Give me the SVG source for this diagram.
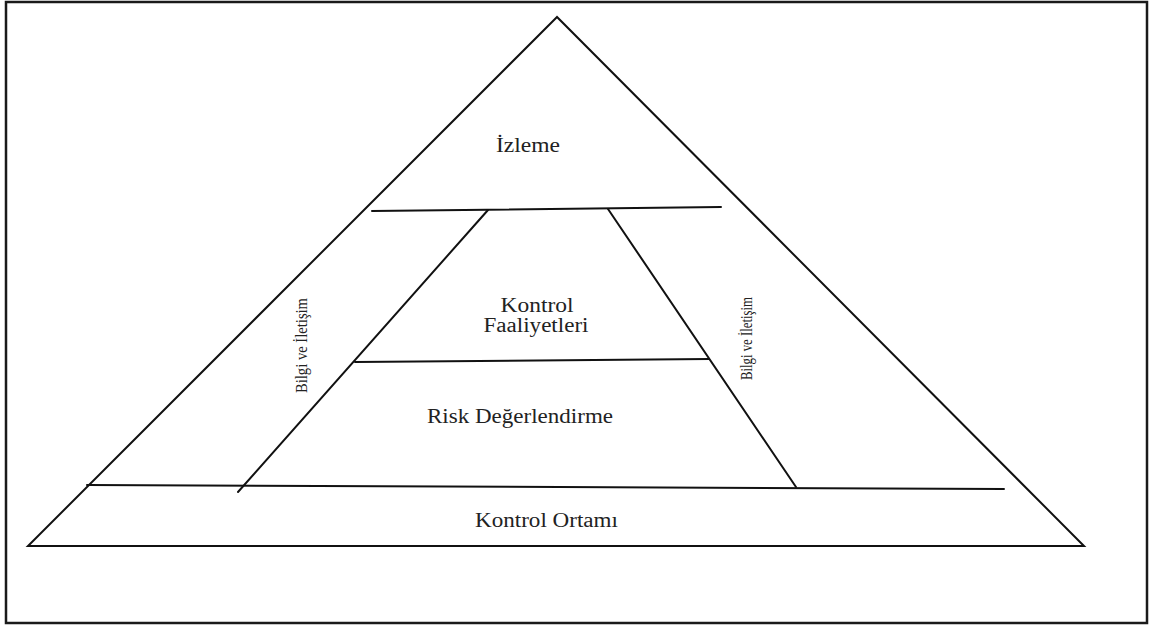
<svg xmlns="http://www.w3.org/2000/svg" width="1150" height="628" viewBox="0 0 1150 628">
  <style>
    .frame { fill: #ffffff; stroke: #1a1a1a; stroke-width: 2.5; }
    .edge { fill: none; stroke: #111111; stroke-width: 2; stroke-linecap: round; }
    .label { font-family: "Liberation Serif", "Times New Roman", serif; font-size: 20px; fill: #222222; text-anchor: middle; }
    .side { font-family: "Liberation Serif", "Times New Roman", serif; font-size: 16px; fill: #222222; text-anchor: middle; }
  </style>

  <rect x="0" y="0" width="1150" height="628" fill="#ffffff"/>
  <rect class="frame" x="6" y="2" width="1141" height="621"/>

  <!-- outer pyramid -->
  <g id="pyramid">
    <polygon class="edge" points="557,17 28,546 1084,546" stroke-linejoin="miter"/>
  </g>

  <!-- dividing lines -->
  <g id="connectors">
    <line class="edge" x1="372" y1="211" x2="721" y2="207"/>
    <line class="edge" x1="355" y1="362" x2="709" y2="359"/>
    <line class="edge" x1="87" y1="485" x2="1004" y2="489"/>
    <line class="edge" x1="488" y1="210" x2="238" y2="492"/>
    <line class="edge" x1="608" y1="209" x2="796" y2="487"/>
  </g>

  <g id="izleme">
    <text class="label" x="528" y="152" textLength="64" lengthAdjust="spacingAndGlyphs">İzleme</text>
  </g>

  <g id="kontrol-faaliyetleri">
    <text class="label" x="537" y="312" textLength="73" lengthAdjust="spacingAndGlyphs">Kontrol</text>
    <text class="label" x="536" y="332" textLength="105" lengthAdjust="spacingAndGlyphs">Faaliyetleri</text>
  </g>

  <g id="risk-degerlendirme">
    <text class="label" x="520" y="423" textLength="186" lengthAdjust="spacingAndGlyphs">Risk Değerlendirme</text>
  </g>

  <g id="kontrol-ortami">
    <text class="label" x="546.5" y="527" textLength="143" lengthAdjust="spacingAndGlyphs">Kontrol Ortamı</text>
  </g>

  <g id="bilgi-iletisim-left">
    <text class="side" transform="translate(307,345.5) rotate(-90)" textLength="95" lengthAdjust="spacingAndGlyphs">Bilgi ve İletişim</text>
  </g>

  <g id="bilgi-iletisim-right">
    <text class="side" transform="translate(752,338.5) rotate(-90)" textLength="83" lengthAdjust="spacingAndGlyphs">Bilgi ve İletişim</text>
  </g>
</svg>
